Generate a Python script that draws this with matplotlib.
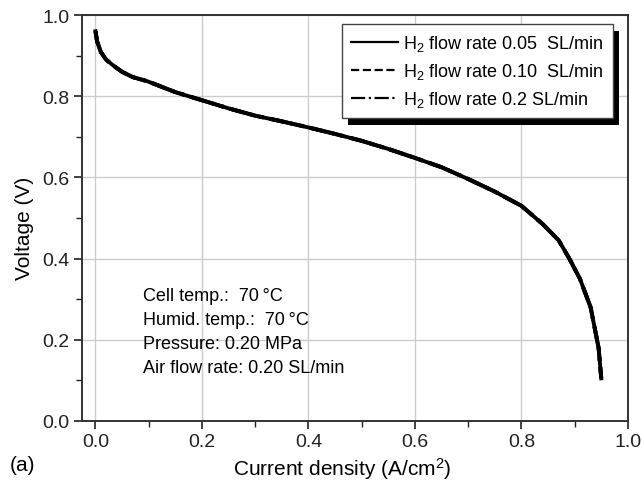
import matplotlib
matplotlib.use("Agg")
import matplotlib.pyplot as plt
from matplotlib.patches import Rectangle
from matplotlib.ticker import MultipleLocator

plt.rcParams['font.family'] = ['Liberation Sans', 'DejaVu Sans']
plt.rcParams['mathtext.fontset'] = 'custom'
plt.rcParams['mathtext.rm'] = 'Liberation Sans'
plt.rcParams['mathtext.it'] = 'Liberation Sans:italic'

# Data
current = [0.0, 0.003, 0.01, 0.02, 0.034, 0.05, 0.07, 0.097, 0.15, 0.2, 0.25, 0.3,
           0.35, 0.4, 0.45, 0.5, 0.55, 0.6, 0.65, 0.7, 0.75, 0.8, 0.84, 0.87,
           0.89, 0.91, 0.93, 0.945, 0.95]
voltage_005 = [0.96, 0.935, 0.909, 0.89, 0.875, 0.86, 0.847, 0.837, 0.81, 0.79, 0.77, 0.752,
               0.738, 0.723, 0.707, 0.69, 0.67, 0.648, 0.625, 0.596, 0.565, 0.53, 0.485, 0.445,
               0.40, 0.35, 0.28, 0.18, 0.105]
voltage_010 = list(voltage_005)
voltage_020 = list(voltage_005)

labels = ["H$_2$ flow rate 0.05  SL/min",
          "H$_2$ flow rate 0.10  SL/min",
          "H$_2$ flow rate 0.2 SL/min"]
conditions = ["Cell temp.:  70\u2009\u00b0C", "Humid. temp.:  70\u2009\u00b0C",
              "Pressure: 0.20 MPa", "Air flow rate: 0.20 SL/min"]
ticks = [0.0, 0.2, 0.4, 0.6, 0.8, 1.0]
tick_labels = ["0.0", "0.2", "0.4", "0.6", "0.8", "1.0"]

fig = plt.figure(figsize=(6.42, 4.85), dpi=100)
ax = fig.add_axes([0.128, 0.130, 0.850, 0.837])

ax.plot(current, voltage_005, color='black', lw=2.8, ls='-', label=labels[0])
ax.plot(current, voltage_010, color='black', lw=2.8, ls='--', label=labels[1])
ax.plot(current, voltage_020, color='black', lw=2.8, ls='-.', label=labels[2])

ax.set_xlim(-0.025, 1.0)
ax.set_ylim(0.0, 1.0)
ax.xaxis.set_minor_locator(MultipleLocator(0.1))
ax.yaxis.set_minor_locator(MultipleLocator(0.1))
ax.set_xticks(ticks)
ax.set_xticklabels(tick_labels)
ax.set_yticks(ticks)
ax.set_yticklabels(tick_labels)
ax.grid(True, which='major', color='#cccccc', lw=1.0)
ax.tick_params(which='major', direction='out', length=6, width=1.2, labelsize=14,
               colors='#222222', pad=3)
ax.tick_params(which='minor', direction='out', length=4, width=1.0, colors='#222222')
for s in ax.spines.values():
    s.set_linewidth(1.4)
    s.set_color('#333333')

ax.set_xlabel("Current density (A/cm$^2$)", fontsize=15, labelpad=3)
ax.xaxis.label.set_x(0.476)
ax.set_ylabel("Voltage (V)", fontsize=15, labelpad=6)
ax.yaxis.label.set_y(0.478)

leg = ax.legend(loc='upper right', bbox_to_anchor=(0.973, 0.978), fontsize=13,
                frameon=True, fancybox=False, handlelength=2.6, handletextpad=0.3,
                labelspacing=0.45, borderpad=0.5, borderaxespad=0.0,
                framealpha=1.0, facecolor='white')
leg.get_frame().set_edgecolor('#444444')
leg.get_frame().set_linewidth(1.0)
leg.set_zorder(10)
for ln in leg.get_lines():
    ln.set_linewidth(1.6)

fig.canvas.draw()
bb = leg.get_window_extent().transformed(fig.transFigure.inverted())
dx, dy = 6 / 642, 7 / 485
shadow = Rectangle((bb.x0 + dx, bb.y0 - dy), bb.width, bb.height,
                   transform=fig.transFigure, facecolor='black',
                   edgecolor='none', zorder=9, clip_on=False)
ax.add_patch(shadow)

ax.text(0.112, 0.33, "\n".join(conditions), transform=ax.transAxes, fontsize=13,
        va='top', ha='left', linespacing=1.55)

fig.text(0.015, 0.04, "(a)", fontsize=15, ha='left', va='center')

fig.savefig("out.png", dpi=100)
